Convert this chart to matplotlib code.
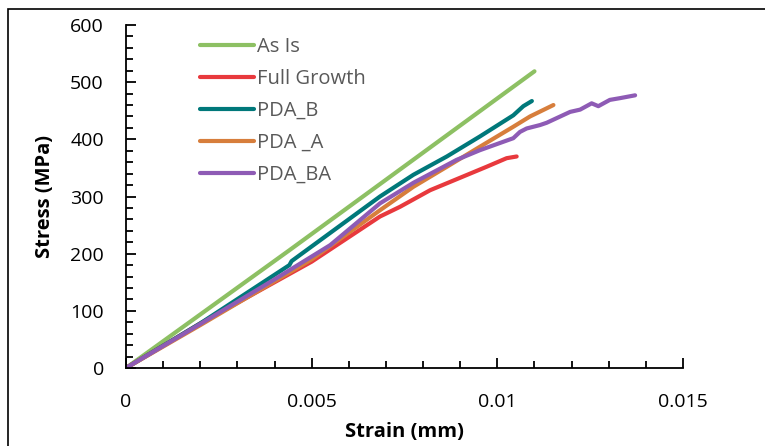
import numpy as np
import matplotlib; matplotlib.use("Agg"); import matplotlib.pyplot as plt
from matplotlib.patches import Rectangle
from matplotlib.ticker import MultipleLocator

plt.rcParams["font.family"] = ["Open Sans", "DejaVu Sans"]

# strain / stress pairs
as_is_x = [0, 0.0044, 0.011]
as_is_y = [0, 206, 519]

full_x = [0, 0.002, 0.005, 0.00684, 0.00738, 0.00819, 0.00908, 0.00971, 0.01025, 0.01052]
full_y = [0, 78, 186, 265, 282, 311, 335, 352, 367, 370]

pda_b_x = [0, 0.002, 0.0044, 0.00446, 0.00684, 0.00774, 0.00864, 0.00953, 0.01043, 0.0107, 0.01093]
pda_b_y = [0, 78, 180, 187, 300, 338, 370, 405, 442, 458, 467]

pda_a_x = [0, 0.002, 0.005, 0.00684, 0.00774, 0.00864, 0.00953, 0.01043, 0.01088, 0.01151]
pda_a_y = [0, 75, 190, 276, 317, 352, 387, 422, 440, 460]

pda_ba_x = [0, 0.002, 0.004, 0.0055, 0.00684, 0.00774, 0.0089, 0.00953, 0.01043, 0.01061, 0.01079,
            0.01115, 0.01133, 0.01196, 0.01223, 0.01254, 0.01272, 0.01303, 0.0133, 0.01371]
pda_ba_y = [0, 77, 155, 215, 288, 324, 364, 381, 402, 413, 419,
            425, 429, 448, 452, 463, 458, 469, 472, 477]

series = [("As Is", as_is_x, as_is_y, "#8DC063"),
          ("Full Growth", full_x, full_y, "#E8393D"),
          ("PDA_B", pda_b_x, pda_b_y, "#00787A"),
          ("PDA _A", pda_a_x, pda_a_y, "#D77E3C"),
          ("PDA_BA", pda_ba_x, pda_ba_y, "#8E5BB5")]

fig = plt.figure(figsize=(7.65, 4.46), dpi=100)
fig.patches.append(Rectangle((8 / 765, -0.1), 1.1, 1.1 - 9 / 446, transform=fig.transFigure,
                             fill=False, edgecolor="black", linewidth=1.2))
ax = fig.add_axes([126 / 765, 1 - 368 / 446, 557 / 765, 343 / 446])

for name, x, y, c in series:
    ax.plot(x, y, color=c, lw=3, label=name, solid_capstyle="round")

ax.set_xlim(0, 0.015); ax.set_ylim(0, 600)
ax.set_xticks([0, 0.005, 0.01, 0.015]); ax.set_xticklabels(["0", "0.005", "0.01", "0.015"])
ax.xaxis.set_minor_locator(MultipleLocator(0.001))
ax.set_yticks(range(0, 601, 100))
ax.yaxis.set_minor_locator(MultipleLocator(20))
ax.tick_params(which="both", direction="in", colors="black", labelsize=14, width=1.3)
ax.tick_params(which="major", length=7)
ax.tick_params(which="minor", length=5)
ax.tick_params(axis="x", pad=18)
ax.tick_params(axis="y", pad=16)
for s in ["top", "right"]:
    ax.spines[s].set_visible(False)
for s in ["left", "bottom"]:
    ax.spines[s].set_linewidth(1.3)

ax.set_xlabel("Strain (mm)", fontsize=14.5, fontweight="bold", labelpad=8)
ax.set_ylabel("Stress (MPa)", fontsize=14.5, fontweight="bold", labelpad=11)

leg = ax.legend(loc="upper left", bbox_to_anchor=(0.1, 1.019), frameon=False, fontsize=14.5,
                handlelength=2.7, handletextpad=0.15, labelspacing=0.6, labelcolor="#595959")

fig.savefig("out.png", dpi=100)
